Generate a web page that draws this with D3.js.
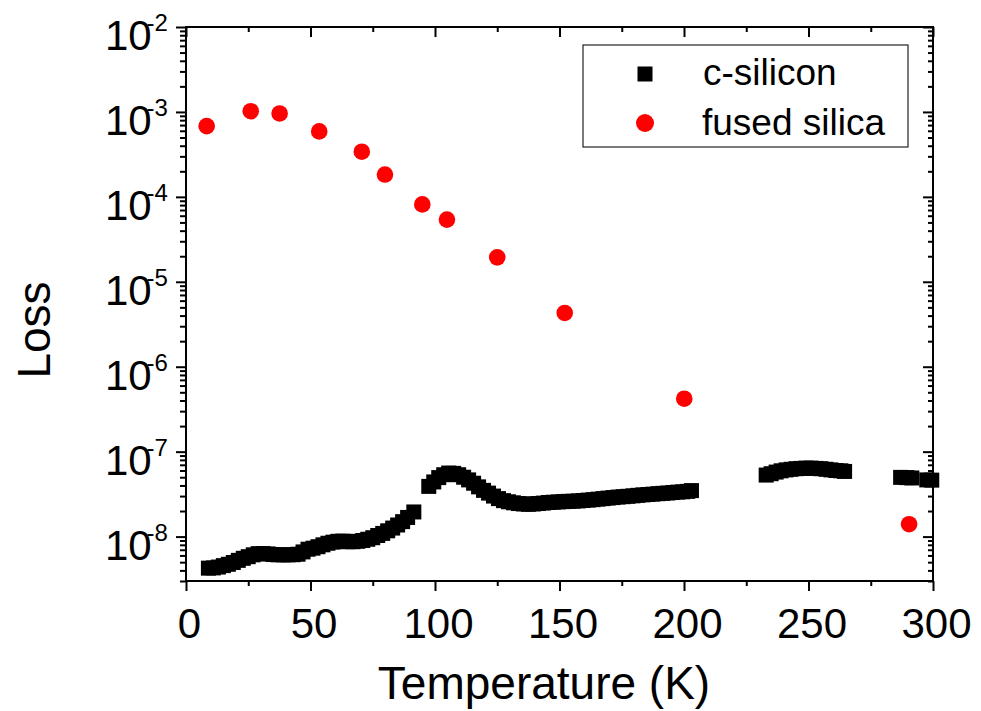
<!DOCTYPE html>
<html>
<head>
<meta charset="utf-8">
<script src="https://cdn.jsdelivr.net/npm/d3@7"></script>
<style>
  html, body { margin: 0; padding: 0; background: #fff; }
  svg { display: block; }
  text { font-family: Arial, "Liberation Sans", Helvetica, sans-serif; fill: #000; }
</style>
</head>
<body>
<div id="chart"></div>
<script>
// Mechanical loss vs. temperature: crystalline silicon and fused silica

// c-silicon (dense sweep, measured in separate runs)
const siliconT = [
  9, 11, 13, 15, 17, 19, 21, 23, 25, 27, 29, 31, 33, 35, 37, 39, 41, 43, 45, 47,
  49, 51, 53, 55, 57, 59, 61, 63, 65, 67, 69, 71, 73, 75, 77, 79, 81, 83, 85, 87,
  89, 91.5,
  97.5, 99.5, 101.5, 103.5, 105.5, 107.5, 109.5, 111.5, 113.5, 115.5, 117.5, 119.5,
  121.5, 123.5, 125.5, 127.5, 129.5, 131.5, 133.5, 135.5, 137.5, 139.5, 141.5, 143.5,
  145.5, 147.5, 149.5, 151.5, 153.5, 155.5, 157.5, 159.5, 161.5, 163.5, 165.5, 167.5,
  169.5, 171.5, 173.5, 175.5, 177.5, 179.5, 181.5, 183.5, 185.5, 187.5, 189.5, 191.5,
  193.5, 195.5, 197.5, 199.5, 201.5, 203,
  233, 235, 237, 239, 241, 243, 245, 247, 249, 251, 253, 255, 257, 259, 261, 263, 264.5,
  287, 289.5, 291.5, 297.5, 299.5
];
const siliconLoss = [
  4.25e-9, 4.28e-9, 4.38e-9, 4.55e-9, 4.72e-9, 4.95e-9, 5.25e-9, 5.55e-9, 5.8e-9, 6.1e-9,
  6.3e-9, 6.3e-9, 6.25e-9, 6.15e-9, 6.1e-9, 6.1e-9, 6.1e-9, 6.12e-9, 6.2e-9, 6.6e-9,
  7.1e-9, 7.3e-9, 7.6e-9, 8.0e-9, 8.35e-9, 8.6e-9, 8.8e-9, 8.85e-9, 8.7e-9, 8.7e-9,
  8.8e-9, 9.0e-9, 9.3e-9, 9.7e-9, 1.03e-8, 1.09e-8, 1.17e-8, 1.26e-8, 1.37e-8, 1.5e-8,
  1.68e-8, 1.95e-8,
  3.9e-8, 4.4e-8, 4.95e-8, 5.35e-8, 5.6e-8, 5.55e-8, 5.35e-8, 5.0e-8, 4.65e-8, 4.25e-8,
  3.85e-8, 3.5e-8, 3.25e-8, 3.0e-8, 2.8e-8, 2.65e-8, 2.57e-8, 2.5e-8, 2.45e-8, 2.42e-8,
  2.4e-8, 2.42e-8, 2.45e-8, 2.48e-8, 2.52e-8, 2.54e-8, 2.56e-8, 2.58e-8, 2.6e-8, 2.61e-8,
  2.63e-8, 2.66e-8, 2.69e-8, 2.72e-8, 2.76e-8, 2.8e-8, 2.84e-8, 2.88e-8, 2.92e-8, 2.95e-8,
  2.98e-8, 3.02e-8, 3.06e-8, 3.1e-8, 3.13e-8, 3.16e-8, 3.2e-8, 3.23e-8, 3.26e-8, 3.3e-8,
  3.34e-8, 3.37e-8, 3.41e-8, 3.48e-8,
  5.3e-8, 5.5e-8, 5.75e-8, 5.95e-8, 6.1e-8, 6.2e-8, 6.3e-8, 6.35e-8, 6.4e-8, 6.4e-8,
  6.35e-8, 6.3e-8, 6.2e-8, 6.1e-8, 6.0e-8, 5.95e-8, 5.85e-8,
  4.98e-8, 4.95e-8, 4.9e-8, 4.65e-8, 4.62e-8
];

// fused silica
const silicaT = [8.3, 26.0, 37.6, 53.5, 70.6, 79.9, 94.9, 104.8, 125.0, 152.1, 200.1, 290.4];
const silicaLoss = [6.8e-4, 1.02e-3, 9.6e-4, 5.9e-4, 3.4e-4, 1.83e-4, 8.15e-5, 5.4e-5,
  1.94e-5, 4.3e-6, 4.2e-7, 1.4e-8];

// axes
const xTicks = [0, 50, 100, 150, 200, 250, 300];
const xMinorTicks = [25, 75, 125, 175, 225, 275];
const yExponents = [-2, -3, -4, -5, -6, -7, -8];
const xTitle = "Temperature (K)";
const yTitle = "Loss";
const legendLabels = ["c-silicon", "fused silica"];

const W = 981, H = 711;
const margin = { left: 186, right: 48, top: 27, bottom: 130 };
const x0 = margin.left, x1 = W - margin.right;
const y0 = margin.top, y1 = H - margin.bottom;

const svg = d3.select("#chart").append("svg")
  .attr("width", W).attr("height", H)
  .attr("viewBox", `0 0 ${W} ${H}`);
svg.append("rect").attr("width", W).attr("height", H).attr("fill", "#fff");

const x = d3.scaleLinear().domain([0, 300]).range([x0, x1]);
const y = d3.scaleLog().domain([3e-9, 1e-2]).range([y1, y0]);

// y minor ticks: 2..9 of every decade inside the domain
const yMinor = [];
for (let e = -9; e <= -3; e++) {
  for (let m = 2; m <= 9; m++) {
    const v = m * Math.pow(10, e);
    if (v > 3e-9 && v < 1e-2) yMinor.push(v);
  }
}
const yMajor = yExponents.map(e => Math.pow(10, e));

const axisW = 2;
const majorLen = 10, minorLen = 5;

// bottom axis: outward ticks
const gBottom = svg.append("g").attr("transform", `translate(0,${y1})`)
  .call(d3.axisBottom(x).tickValues(xTicks).tickSize(majorLen).tickPadding(17).tickFormat(d3.format("d")));
gBottom.append("g").call(d3.axisBottom(x).tickValues(xMinorTicks).tickSize(minorLen).tickFormat(""));

// top axis: inward ticks
const gTop = svg.append("g").attr("transform", `translate(0,${y0})`)
  .call(d3.axisBottom(x).tickValues(xTicks).tickSize(majorLen).tickFormat(""));
gTop.append("g").call(d3.axisBottom(x).tickValues(xMinorTicks).tickSize(minorLen).tickFormat(""));

// left axis: outward ticks
const gLeft = svg.append("g").attr("transform", `translate(${x0},0)`)
  .call(d3.axisLeft(y).tickValues(yMajor).tickSize(majorLen).tickFormat(""));
gLeft.append("g").call(d3.axisLeft(y).tickValues(yMinor).tickSize(minorLen + 1).tickFormat(""));

// right axis: inward ticks
const gRight = svg.append("g").attr("transform", `translate(${x1},0)`)
  .call(d3.axisLeft(y).tickValues(yMajor).tickSize(majorLen).tickFormat(""));
gRight.append("g").call(d3.axisLeft(y).tickValues(yMinor).tickSize(minorLen).tickFormat(""));

svg.selectAll(".domain").remove();
svg.selectAll(".tick line").attr("stroke", "#000").attr("stroke-width", axisW);

// frame
svg.append("rect")
  .attr("x", x0).attr("y", y0).attr("width", x1 - x0).attr("height", y1 - y0)
  .attr("fill", "none").attr("stroke", "#000").attr("stroke-width", axisW);

// x tick labels
gBottom.selectAll(".tick text")
  .attr("font-size", 42).attr("font-family", "Arial, 'Liberation Sans', sans-serif")
  .attr("fill", "#000").attr("dx", 3);

// y tick labels: 10 with superscript exponent
const yl = svg.append("g");
yMajor.forEach((v, i) => {
  const ty = y(v);
  const t = yl.append("text").attr("font-size", 42);
  t.append("tspan").attr("x", 105).attr("y", ty + 23.3).text("10");
  t.append("tspan").attr("x", 146.5).attr("y", ty + 4).attr("font-size", 24)
    .text("-" + Math.abs(yExponents[i]));
});

// axis titles
svg.append("text")
  .attr("x", 544).attr("y", 699)
  .attr("text-anchor", "middle").attr("font-size", 46)
  .text(xTitle);
svg.append("text")
  .attr("transform", "translate(50,330) rotate(-90)")
  .attr("text-anchor", "middle").attr("font-size", 46)
  .text(yTitle);

// data: c-silicon squares
const sq = 15;
const silicon = siliconT.map((t, i) => ({ t, v: siliconLoss[i] }));
svg.append("g").selectAll("rect")
  .data(silicon).join("rect")
  .attr("x", d => x(d.t) - sq / 2).attr("y", d => y(d.v) - sq / 2)
  .attr("width", sq).attr("height", sq)
  .attr("fill", "#000");

// data: fused silica circles
const silica = silicaT.map((t, i) => ({ t, v: silicaLoss[i] }));
svg.append("g").selectAll("circle")
  .data(silica).join("circle")
  .attr("cx", d => x(d.t)).attr("cy", d => y(d.v))
  .attr("r", 8.3).attr("fill", "#ff0000");

// legend
const lg = svg.append("g");
lg.append("rect").attr("x", 583).attr("y", 45).attr("width", 325).attr("height", 102)
  .attr("fill", "#fff").attr("stroke", "#222").attr("stroke-width", 1.2);
lg.append("rect").attr("x", 645 - 7.5).attr("y", 74 - 7.5).attr("width", 15).attr("height", 15)
  .attr("fill", "#000");
lg.append("circle").attr("cx", 645).attr("cy", 123).attr("r", 9).attr("fill", "#ff0000");
lg.append("text").attr("x", 703).attr("y", 85).attr("font-size", 37).text(legendLabels[0]);
lg.append("text").attr("x", 702).attr("y", 135).attr("font-size", 37).text(legendLabels[1]);
</script>
</body>
</html>
